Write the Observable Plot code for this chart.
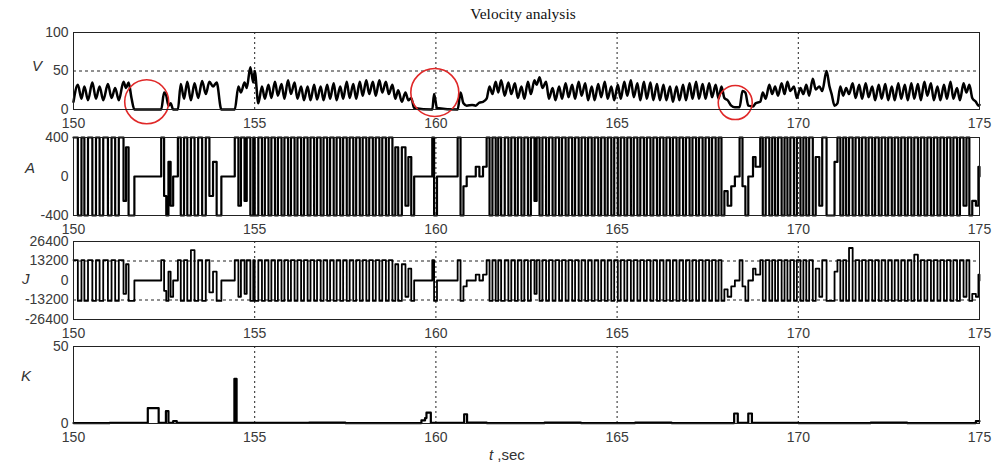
<!DOCTYPE html>
<html><head><meta charset="utf-8">
<script src="https://cdn.jsdelivr.net/npm/d3@7"></script>
<script src="https://cdn.jsdelivr.net/npm/@observablehq/plot@0.6"></script>
<style>
body{margin:0;background:#fff;}
#wrap{position:relative;width:1002px;height:463px;overflow:hidden;font-family:"Liberation Sans",Arial,sans-serif;background:#fff;}
.panel{position:absolute;left:0;}
.lab{position:absolute;font-style:italic;font-size:15px;color:#333;line-height:1;}
#title{position:absolute;left:0;width:1046px;top:5px;text-align:center;font-family:"Liberation Serif","Times New Roman",serif;font-size:15.5px;color:#111;}
#xlab{position:absolute;left:489px;top:446px;font-size:15px;color:#333;}
</style></head><body><div id="wrap">
<div id="title">Velocity analysis</div>
<div class="lab" style="left:32px;top:58px">V</div>
<div class="lab" style="left:25px;top:160px">A</div>
<div class="lab" style="left:22px;top:271px">J</div>
<div class="lab" style="left:21px;top:368px">K</div>
<div id="xlab"><i>t</i> ,sec</div>
</div>
<script>
// ---- time ticks ----
const xTicks = [150, 155, 160, 165, 170, 175];
const gridT = [155, 160, 165, 170];

// ---- velocity V: turning points ----
const vt = [
150.00,150.12,150.22,150.30,150.40,150.52,150.62,150.72,150.82,150.95,
151.05,151.15,151.25,151.38,151.45,151.52,151.60,151.68,
152.42,152.50,152.56,152.62,152.68,152.75,152.88,152.96,
153.05,153.14,153.24,153.34,153.44,153.55,153.65,153.75,153.85,153.95,
154.08,154.45,154.55,154.62,154.72,154.78,154.88,154.96,
155.00,155.10,155.20,155.28,155.38,155.46,155.56,155.64,155.74,155.82,155.92,
156.00,156.10,156.18,156.28,156.36,156.46,156.54,156.64,156.72,156.82,156.90,
157.00,157.08,157.18,157.26,157.36,157.44,157.54,157.62,157.72,157.80,157.90,157.98,
158.08,158.16,158.26,158.34,158.44,158.52,158.62,158.70,158.80,158.88,158.96,
159.06,159.16,159.24,159.32,159.40,159.90,159.95,
160.03,160.60,160.68,160.76,160.85,
161.00,161.10,161.20,161.30,161.40,161.48,161.56,161.65,161.72,161.80,161.90,
162.00,162.08,162.18,162.26,162.36,162.44,162.54,162.62,162.72,162.78,162.86,162.94,
163.04,163.12,163.22,163.30,163.40,163.48,163.58,163.66,163.76,163.84,163.94,
164.02,164.12,164.20,164.30,164.38,164.48,164.56,164.66,164.74,164.84,164.92,
165.02,165.10,165.20,165.28,165.38,165.46,165.56,165.64,165.74,165.82,165.92,
166.00,166.10,166.18,166.28,166.36,166.46,166.54,166.64,166.72,166.82,166.90,
167.00,167.08,167.18,167.26,167.36,167.44,167.54,167.62,167.72,167.80,167.88,167.96,
168.05,168.15,168.25,168.38,168.46,168.54,168.62,168.75,168.82,168.95,
169.02,169.10,169.20,169.28,169.36,169.44,169.54,169.62,169.70,169.78,169.88,169.96,
170.06,170.14,170.22,170.30,170.40,170.48,170.58,170.66,170.78,170.86,170.92,
171.00,171.08,171.16,171.24,171.32,171.40,171.50,171.58,171.68,171.76,171.86,171.94,
172.04,172.12,172.22,172.30,172.40,172.48,172.58,172.66,172.76,172.84,172.94,
173.02,173.12,173.20,173.30,173.38,173.48,173.56,173.66,173.74,173.84,173.92,
174.02,174.10,174.20,174.28,174.38,174.46,174.56,174.64,174.72,174.80,174.90,174.97,175.00];
const vv = [
10,32,14,30,12,35,14,30,12,33,
15,28,12,36,28,35,15,0,
0,22,18,5,8,0,0,33,
14,36,12,34,15,37,20,36,30,35,
0,0,30,22,35,28,55,35,
50,8,30,14,32,15,36,18,33,14,38,
20,35,14,30,12,30,12,32,13,30,12,
32,14,34,12,30,14,36,15,33,14,36,18,
38,20,36,18,38,22,36,20,32,14,25,
10,22,12,15,2,0,20,
2,0,22,8,5,
6,5,9,10,14,30,20,36,22,38,18,
35,20,34,15,30,14,36,20,38,32,42,28,
36,14,28,12,30,14,34,16,32,14,36,
18,34,12,30,12,33,16,36,14,30,12,
32,14,36,18,38,16,34,12,36,14,35,
12,33,12,32,12,30,10,30,12,32,12,
34,14,36,14,33,14,34,16,32,14,30,15,
12,5,3,3,24,22,5,4,8,10,
22,14,32,20,30,18,34,20,36,24,30,15,
28,20,32,18,40,26,30,24,50,30,20,
5,8,30,18,28,20,34,15,32,14,34,16,
30,12,32,14,33,12,30,12,34,14,32,
12,34,14,33,12,36,18,34,12,30,12,
32,14,36,14,28,12,34,22,32,15,10,5,6];

// ---- acceleration A: value held over each interval starting at vt[i] ----
const av = [
400,-400,400,-400,400,-400,400,-400,400,-400,
400,-400,400,-250,300,-400,-400,0,
400,-200,-400,150,-300,0,400,-400,
400,-400,400,-400,400,-400,400,-200,150,-400,
0,400,-300,400,-250,400,-400,400,
-400,400,-400,400,-400,400,-400,400,-400,400,-400,
400,-400,400,-400,400,-400,400,-400,400,-400,400,
-400,400,-400,400,-400,400,-400,400,-400,400,-400,400,
-400,400,-400,400,-400,400,-400,400,-400,300,-400,
300,-300,200,-400,0,400,-400,
0,400,-400,-100,0,
0,100,0,100,400,-400,400,-400,400,-400,400,
-400,400,-400,400,-400,400,-400,400,-250,400,-400,400,
-400,400,-400,400,-400,400,-400,400,-400,400,-400,
400,-400,400,-400,400,-400,400,-400,400,-400,400,
-400,400,-400,400,-400,400,-400,400,-400,400,-400,
400,-400,400,-400,400,-400,400,-400,400,-400,400,
-400,400,-400,400,-400,400,-400,400,-400,400,-400,-150,
-300,-100,0,400,-100,-400,0,200,100,400,
-400,400,-400,400,-400,400,-400,400,-400,400,-400,400,
-400,400,-400,400,-400,200,-300,400,-400,-400,-400,
150,400,-400,400,-400,400,-400,400,-400,400,-400,400,
-400,400,-400,400,-400,400,-400,400,-400,400,-400,
400,-400,400,-400,400,-400,400,-400,400,-400,400,
-400,400,-400,400,-400,400,-300,400,-400,-250,-300,100,0];

// ---- jerk J: value held over each interval starting at vt[i] ----
const jv = [
13800,-13800,13800,-13800,13800,-13800,13800,-13800,13800,-13800,
13800,-13800,13800,-9000,11000,-13800,-13800,0,
13800,-7000,-13800,6000,-11000,0,13800,-13800,
13800,-13800,20500,-13800,13800,-13800,13800,-8000,6000,-13800,
0,13800,-11000,13800,-9000,13800,-13800,13800,
-13800,13800,-13800,13800,-13800,13800,-13800,13800,-13800,13800,-13800,
13800,-13800,13800,-13800,13800,-13800,13800,-13800,13800,-13800,13800,
-13800,13800,-13800,13800,-13800,13800,-13800,13800,-13800,13800,-13800,13800,
-13800,13800,-13800,13800,-13800,13800,-13800,13800,-13800,11000,-13800,
11000,-11000,8000,-13800,0,13800,-13800,
0,13800,-13800,-4000,0,
0,4000,0,4000,13800,-13800,13800,-13800,13800,-13800,13800,
-13800,13800,-13800,13800,-13800,13800,-13800,13800,-9000,13800,-13800,13800,
-13800,13800,-13800,13800,-13800,13800,-13800,13800,-13800,13800,-13800,
13800,-13800,13800,-13800,13800,-13800,13800,-13800,13800,-13800,13800,
-13800,13800,-13800,13800,-13800,13800,-13800,13800,-13800,13800,-13800,
13800,-13800,13800,-13800,13800,-13800,13800,-13800,13800,-13800,13800,
-13800,13800,-13800,13800,-13800,13800,-13800,13800,-13800,13800,-13800,-6000,
-11000,-4000,0,13800,-4000,-13800,0,8000,4000,13800,
-13800,13800,-13800,13800,-13800,13800,-13800,13800,-13800,13800,-13800,13800,
-13800,13800,-13800,13800,-13800,8000,-11000,13800,-13800,-13800,-13800,
6000,13800,-13800,13800,-13800,22000,-13800,13800,-13800,13800,-13800,13800,
-13800,13800,-13800,13800,-13800,13800,-13800,13800,-13800,13800,-13800,
13800,-13800,17500,-13800,13800,-13800,13800,-13800,13800,-13800,13800,
-13800,13800,-13800,13800,-13800,13800,-11000,13800,-13800,-9000,-11000,4000,0];

// ---- K: step points ----
const kt = [150.00,151.00,152.05,152.35,152.55,152.62,152.75,152.85,154.44,154.50,
  156.50,157.50,159.60,159.70,159.74,159.86,160.78,160.86,161.40,163.00,164.00,
  165.50,166.50,168.23,168.33,168.62,168.72,170.00,172.00,173.00,174.90,175.00];
const kv = [0.3,0.5,10,0.5,8,0.5,1.5,0.4,29,0.4,
  0.6,0.3,2,3.5,7,0.5,6,0.6,0.3,0.6,0.3,
  0.6,0.3,6.5,0.4,6.5,0.4,0.3,0.6,0.3,1.5,1.5];

// ---- highlighted stops (red circles): centre time, centre V ----
const circT = [152.02, 159.97, 168.26];
const circV = [10, 22, 9];

const vTicks = [0, 50, 100];
const aTicks = [-400, 0, 400];
const jTicks = [-26400, -13200, 0, 13200, 26400];
const kTicks = [0, 50];

const vData = vt.map((t, i) => ({t, v: vv[i]}));
const aData = vt.map((t, i) => ({t, a: av[i]}));
const jData = vt.map((t, i) => ({t, j: jv[i]}));
const kData = kt.map((t, i) => ({t, k: kv[i]}));

const wrap = document.getElementById("wrap");
function panel(top, mt, ph, mb, yDomain, yTicks, marks) {
  const svg = Plot.plot({
    width: 1002, height: mt + ph + mb,
    marginLeft: 73, marginRight: 23, marginTop: mt, marginBottom: mb,
    style: {fontFamily: "'Liberation Sans', Arial, sans-serif", fontSize: "14px", color: "#333", background: "transparent", overflow: "visible"},
    x: {domain: [150, 175]},
    y: {domain: yDomain},
    marks: [
      Plot.ruleX(gridT, {stroke: "#222", strokeDasharray: "2,3", strokeWidth: 1}),
      ...marks,
      Plot.frame({stroke: "#222", strokeWidth: 1}),
      Plot.axisX({ticks: xTicks, tickSize: 0, tickPadding: 9, tickFormat: d => String(d), fill: "#3a3a3a", label: null}),
      Plot.axisY({ticks: yTicks, tickSize: 0, tickPadding: 5, tickFormat: d => String(d), fill: "#3a3a3a", label: null})
    ]
  });
  svg.classList.add("panel");
  svg.style.position = "absolute";
  svg.style.top = top + "px";
  svg.style.left = "0px";
  wrap.appendChild(svg);
}

panel(26, 6, 77, 19, [0, 100], vTicks, [
  Plot.ruleY([50], {stroke: "#222", strokeDasharray: "3,3"}),
  Plot.line(vData, {x: "t", y: "v", curve: "monotone-x", stroke: "#000", strokeWidth: 2.5}),
  Plot.dot([{t: circT[0], v: circV[0]}], {x: "t", y: "v", r: 22, stroke: "#e02828", strokeWidth: 1.6}),
  Plot.dot([{t: circT[1], v: circV[1]}], {x: "t", y: "v", r: 24, stroke: "#e02828", strokeWidth: 1.6}),
  Plot.dot([{t: circT[2], v: circV[2]}], {x: "t", y: "v", r: 17, stroke: "#e02828", strokeWidth: 1.6})
]);
panel(128, 9, 78, 19, [-400, 400], aTicks, [
  Plot.line(aData, {x: "t", y: "a", curve: "step-after", stroke: "#000", strokeWidth: 2.2})
]);
panel(234, 7, 78, 20, [-26400, 26400], jTicks, [
  Plot.ruleY([13200, -13200], {stroke: "#222", strokeDasharray: "3,3"}),
  Plot.line(jData, {x: "t", y: "j", curve: "step-after", stroke: "#000", strokeWidth: 1.8})
]);
panel(339, 7, 77, 24, [0, 50], kTicks, [
  Plot.line(kData, {x: "t", y: "k", curve: "step-after", stroke: "#000", strokeWidth: 2.2})
]);
</script>
</body></html>
